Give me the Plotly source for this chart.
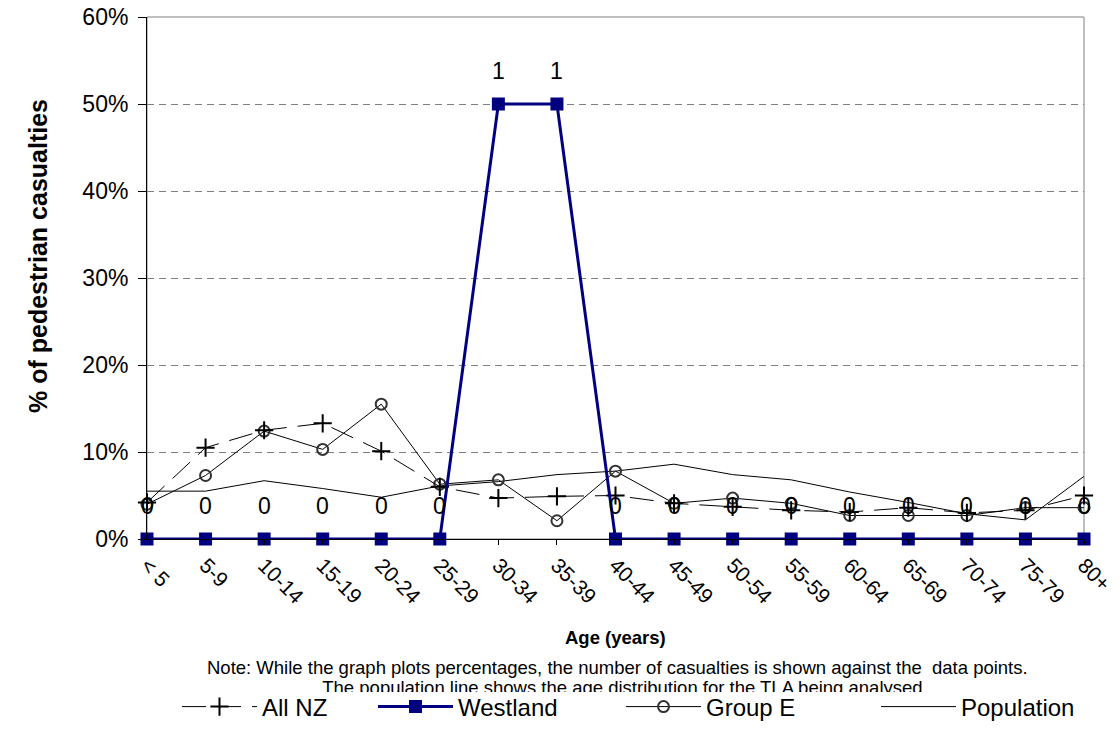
import plotly.graph_objects as go

# ---------------- data ----------------
categories = ["< 5", "5-9", "10-14", "15-19", "20-24", "25-29", "30-34", "35-39",
              "40-44", "45-49", "50-54", "55-59", "60-64", "65-69", "70-74", "75-79", "80+"]
all_nz = [4.2, 10.5, 12.5, 13.3, 10.1, 6.0, 4.7, 4.9, 5.0, 4.1, 3.7, 3.3, 3.1, 3.6, 3.0, 3.3, 5.0]
westland = [0, 0, 0, 0, 0, 0, 50, 50, 0, 0, 0, 0, 0, 0, 0, 0, 0]
westland_counts = [0, 0, 0, 0, 0, 0, 1, 1, 0, 0, 0, 0, 0, 0, 0, 0, 0]
group_e = [4.0, 7.3, 12.4, 10.3, 15.5, 6.3, 6.8, 2.1, 7.8, 4.1, 4.7, 4.1, 2.7, 2.7, 2.7, 3.6, 3.6]
population = [5.5, 5.5, 6.7, 5.8, 4.8, 6.1, 6.6, 7.4, 7.8, 8.6, 7.4, 6.8, 5.4, 4.2, 2.9, 2.2, 7.2]
y_ticks = [0, 10, 20, 30, 40, 50, 60]
y_tick_labels = ["0%", "10%", "20%", "30%", "40%", "50%", "60%"]

note_line1 = "Note: While the graph plots percentages, the number of casualties is shown against the  data points."
note_line2 = "The population line shows the age distribution for the TLA being analysed."

# ---------------- layout helpers ----------------
# page is 1119x742; the figure div sits 8px in from the top-left corner (body margin)
OFF = 8
W, H = 1119 - OFF, 742 - OFF
PL, PR, PT, PB = 147, 1084, 17, 539  # plot area in page pixels


def px(x):
    return (x - OFF) / W


def py(y):
    return 1 - (y - OFF) / H


FONT = "Liberation Sans, Arial, sans-serif"
NAVY = "#000080"

fig = go.Figure()

fig.add_trace(go.Scatter(
    x=categories, y=population, mode="lines", name="Population",
    line=dict(color="black", width=1), cliponaxis=False, legend="legend4"))

fig.add_trace(go.Scatter(
    x=categories, y=group_e, mode="lines+markers", name="Group E",
    line=dict(color="black", width=1),
    marker=dict(symbol="circle-open", size=11, color="#333333", line=dict(width=2, color="#333333")),
    cliponaxis=False, legend="legend3"))

fig.add_trace(go.Scatter(
    x=categories, y=all_nz, mode="lines+markers", name="All NZ",
    line=dict(color="black", width=1, dash="24px,11px"),
    marker=dict(symbol="cross-thin-open", size=13, color="black", line=dict(width=2, color="black")),
    cliponaxis=False, legend="legend"))

fig.add_trace(go.Scatter(
    x=categories, y=westland, mode="lines+markers", name="Westland",
    line=dict(color=NAVY, width=3),
    marker=dict(symbol="square", size=13, color=NAVY),
    cliponaxis=False, legend="legend2"))

# data labels (number of casualties) for Westland
for c, v, n in zip(categories, westland, westland_counts):
    fig.add_annotation(x=c, y=v, xref="x", yref="y", text=str(n), showarrow=False,
                       xanchor="center", yanchor="middle",
                       yshift=33, font=dict(family=FONT, size=23, color="black"))

# clipped second note line (drawn in a hidden subplot so it gets cut off like the original)
fig.add_trace(go.Scatter(
    x=[617], y=[689], mode="text", text=[note_line2], textposition="middle center",
    textfont=dict(family=FONT, size=18.5, color="black"), cliponaxis=True,
    showlegend=False, hoverinfo="skip", xaxis="x2", yaxis="y2"))

# plot area border
fig.add_shape(type="rect", xref="paper", yref="paper",
              x0=px(PL), x1=px(PR), y0=py(PB), y1=py(PT),
              line=dict(color="#808080", width=1), layer="below")

# axis titles and note
fig.add_annotation(x=px((PL + PR) / 2), y=py(637), xref="paper", yref="paper",
                   xanchor="center", yanchor="middle",
                   text="<b>Age (years)</b>", showarrow=False,
                   font=dict(family=FONT, size=18.5, color="black"))
fig.add_annotation(x=px(38), y=py(256), xref="paper", yref="paper",
                   xanchor="center", yanchor="middle",
                   text="<b>% of pedestrian casualties</b>", showarrow=False, textangle=-90,
                   font=dict(family=FONT, size=25, color="black"))
fig.add_annotation(x=px(617), y=py(667), xref="paper", yref="paper",
                   xanchor="center", yanchor="middle",
                   text=note_line1, showarrow=False,
                   font=dict(family=FONT, size=18.5, color="black"))

legend_common = dict(orientation="h", yanchor="middle", y=py(707), xanchor="left",
                     bgcolor="rgba(0,0,0,0)", font=dict(family=FONT, size=24, color="black"),
                     itemsizing="trace", itemwidth=75)

fig.update_layout(
    width=W, height=H,
    margin=dict(l=0, r=0, t=0, b=0, autoexpand=False),
    paper_bgcolor="white", plot_bgcolor="white",
    font=dict(family=FONT, color="black"),
    showlegend=True,
    legend=dict(x=px(177), **legend_common),
    legend2=dict(x=px(373), **legend_common),
    legend3=dict(x=px(621), **legend_common),
    legend4=dict(x=px(876), **legend_common),
    xaxis=dict(
        domain=[px(PL), px(PR)], type="category", range=[0, len(categories) - 1],
        showgrid=False, zeroline=False, showline=True, linecolor="black", linewidth=1,
        ticks="outside", ticklen=5, tickcolor="black", tickangle=45, automargin=False,
        ticklabeloverflow="allow",
        tickfont=dict(family=FONT, size=21, color="black"), anchor="y"),
    yaxis=dict(
        domain=[py(PB), py(PT)], range=[0, 60], tickvals=y_ticks, ticktext=y_tick_labels,
        showgrid=True, gridcolor="#808080", gridwidth=1, griddash="7px,5px",
        zeroline=False, showline=True, linecolor="black", linewidth=1, automargin=False,
        ticks="outside", ticklen=8, tickcolor="black", ticklabelstandoff=5,
        ticklabeloverflow="allow",
        tickfont=dict(family=FONT, size=23, color="black"), anchor="x"),
    xaxis2=dict(domain=[0, 1], range=[0, W], visible=False, anchor="y2", automargin=False),
    yaxis2=dict(domain=[py(692), py(655)], range=[692, 655], visible=False, anchor="x2",
                automargin=False),
)

fig.write_html("out.html")
